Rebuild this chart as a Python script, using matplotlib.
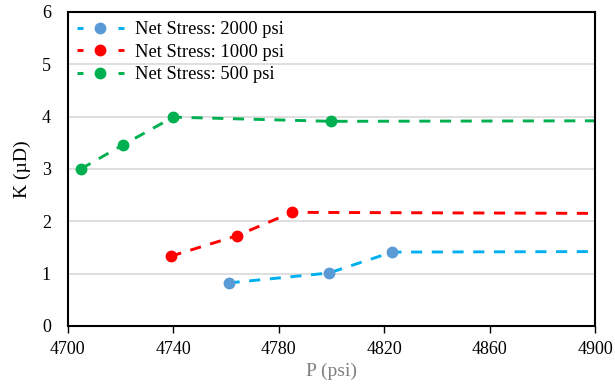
import matplotlib.pyplot as plt
from matplotlib.lines import Line2D
from matplotlib.legend_handler import HandlerBase

# pressure (psi) and permeability (microdarcy) for each net stress level
p_2000 = [4761, 4799, 4823, 4900]
k_2000 = [0.82, 1.01, 1.41, 1.42]

p_1000 = [4739, 4764, 4785, 4900]
k_1000 = [1.33, 1.72, 2.17, 2.15]

p_500 = [4705, 4721, 4740, 4800, 4900]
k_500 = [3.00, 3.46, 3.99, 3.91, 3.92]

labels = ["Net Stress: 2000 psi", "Net Stress: 1000 psi", "Net Stress: 500 psi"]

plt.rcParams['font.family'] = ['Liberation Serif', 'DejaVu Serif']


class DashMarkerHandler(HandlerBase):
    """legend key: short dash, marker, short dash"""
    def create_artists(self, legend, orig, xd, yd, w, h, fontsize, trans):
        y = h / 2 - yd
        seg = 0.13 * w
        kw = dict(color=orig.get_color(), lw=orig.get_linewidth(), solid_capstyle='butt')
        left = Line2D([-xd, -xd + seg], [y, y], **kw)
        right = Line2D([-xd + w - seg, -xd + w], [y, y], **kw)
        mark = Line2D([-xd + w / 2], [y], linestyle='none', marker='o',
                      markersize=orig.get_markersize(),
                      markerfacecolor=orig.get_markerfacecolor(),
                      markeredgecolor=orig.get_markeredgecolor())
        for a in (left, right, mark):
            a.set_transform(trans)
        return [left, right, mark]


fig = plt.figure(figsize=(6.15, 3.87), dpi=100)
ax = fig.add_axes([0.110, 0.158, 0.858, 0.811])

lw = 2.1
dash = (0, (3.8, 3.3))
series = [
    (p_2000, k_2000, '#00B0F0', '#5B9BD5', labels[0]),
    (p_1000, k_1000, '#FF0000', '#FF0000', labels[1]),
    (p_500, k_500, '#00B050', '#00B050', labels[2]),
]
handles = []
for p, k, lc, mc, lab in series:
    # last point only extends the line to the axis edge, no marker there
    line, = ax.plot(p, k, color=lc, lw=lw, linestyle=dash, dash_capstyle='butt',
                    markevery=list(range(len(p) - 1)), marker='o', markersize=7.5,
                    markerfacecolor=mc, markeredgecolor=mc, label=lab)
    handles.append(line)

ax.set_xlim(4700, 4900)
ax.set_ylim(0, 6)
ax.set_xticks(range(4700, 4901, 40))
ax.set_yticks(range(0, 7))
ax.grid(axis='y', color='#d9d9d9', lw=1.2)
ax.set_axisbelow(True)
for s in ax.spines.values():
    s.set_color('black')
    s.set_linewidth(1.5)
ax.tick_params(axis='x', direction='out', length=5, width=1, labelsize=13, pad=6)
ax.tick_params(axis='y', length=0, labelsize=13, pad=12)

ax.set_xlabel("P (psi)", fontsize=14, color='#808080', labelpad=3)
ax.set_ylabel("K (\u00b5D)", fontsize=14, labelpad=8)

ax.legend(handles=handles, loc='upper left', frameon=False, fontsize=13.3,
          handlelength=2.55, handletextpad=0.6, labelspacing=0.3,
          borderaxespad=0.3, borderpad=0.2,
          handler_map={Line2D: DashMarkerHandler()})

plt.savefig("out.png", dpi=100)
